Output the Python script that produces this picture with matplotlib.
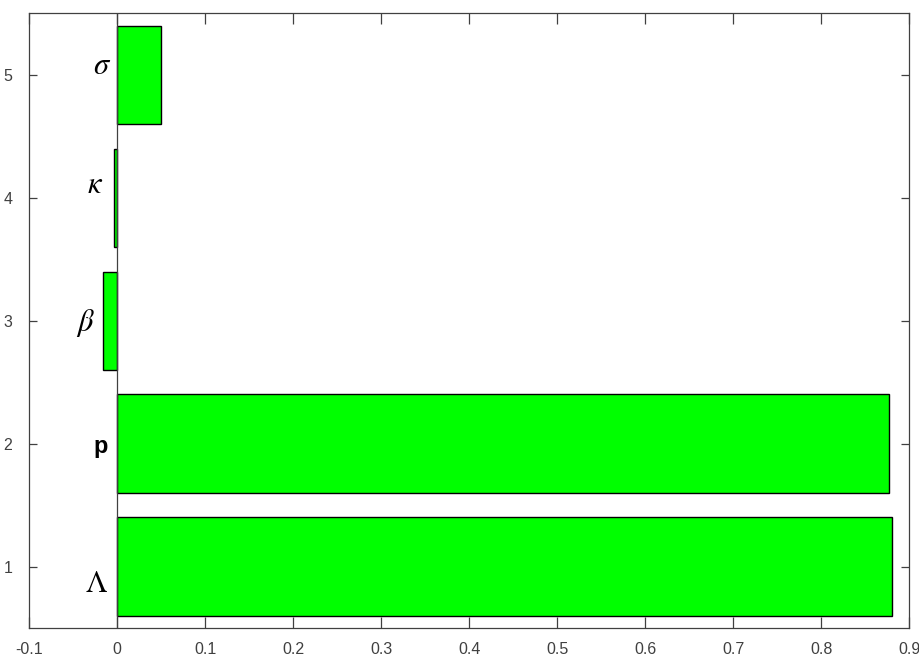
import matplotlib.pyplot as plt

# sensitivity index per parameter
positions = [1, 2, 3, 4, 5]
values = [0.880, 0.877, -0.016, -0.004, 0.050]
names = [r'$\Lambda$', 'p', r'$\beta$', r'$\kappa$', r'$\sigma$']
label_x = [-0.023, -0.019, -0.036, -0.025, -0.017]
label_y = [0.86, 1.98, 2.98, 4.10, 5.07]

xticks = [-0.1, 0, 0.1, 0.2, 0.3, 0.4, 0.5, 0.6, 0.7, 0.8, 0.9]
xtick_labels = ['-0.1', '0', '0.1', '0.2', '0.3', '0.4', '0.5', '0.6', '0.7', '0.8', '0.9']

plt.rcParams['mathtext.fontset'] = 'stix'
plt.rcParams['font.family'] = ['Liberation Sans', 'DejaVu Sans']

fig = plt.figure(figsize=(9.2, 6.66), dpi=100)
ax = fig.add_axes([0.0315, 0.057, 0.957, 0.923])

ax.barh(positions, values, height=0.8, color='#00ff00', edgecolor='black', linewidth=1.0, zorder=2)

# baseline at zero, like matlab's barh
ax.axvline(0, color='#404040', linewidth=0.9, zorder=3)

for x, y, s in zip(label_x, label_y, names):
    if s == 'p':
        ax.text(x, y, s, fontsize=17, fontweight='bold', ha='center', va='center',
                family='Liberation Sans')
    else:
        ax.text(x, y, s, fontsize=22, ha='center', va='center')

ax.set_xlim(-0.1, 0.9)
ax.set_ylim(0.5, 5.5)
ax.set_xticks(xticks)
ax.set_xticklabels(xtick_labels)
ax.set_yticks(positions)

ax.tick_params(direction='in', width=0.9, top=True, right=True,
               labelsize=11.5, colors='#404040', labelcolor='#404040')
ax.tick_params(axis='x', length=8, pad=10)
ax.tick_params(axis='y', length=6, pad=12)
for sp in ax.spines.values():
    sp.set_color('#404040')
    sp.set_linewidth(0.9)

plt.savefig('out.png', dpi=100)
